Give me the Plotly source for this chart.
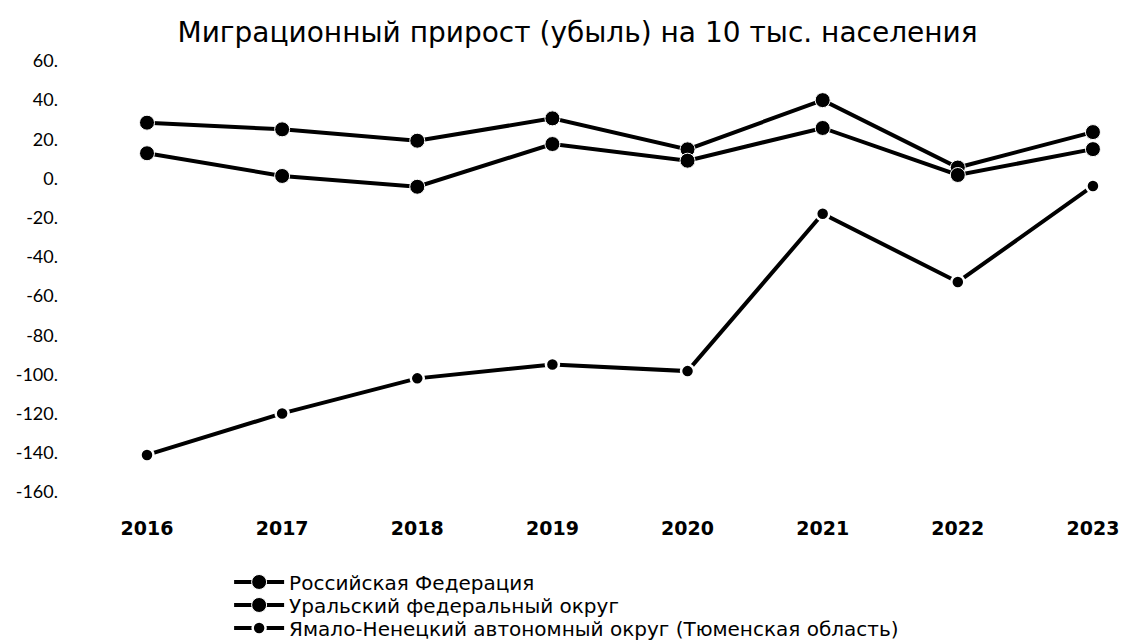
import plotly.graph_objects as go

years = [2016, 2017, 2018, 2019, 2020, 2021, 2022, 2023]
names = ["Российская Федерация", "Уральский федеральный округ",
         "Ямало-Ненецкий автономный округ (Тюменская область)"]
rf = [28.5, 25.1, 19.3, 30.7, 14.9, 40.0, 5.6, 23.7]
ufo = [12.9, 1.3, -4.2, 17.6, 9.1, 25.8, 1.8, 15.0]
yanao = [-141.1, -119.9, -102.0, -94.9, -98.3, -18.0, -52.8, -3.8]
ytick_vals = [60, 40, 20, 0, -20, -40, -60, -80, -100, -120, -140, -160]
ytick_text = [f"{v}." for v in ytick_vals]
title = "Миграционный прирост (убыль) на 10 тыс. населения"

fig = go.Figure()
fig.add_trace(go.Scatter(x=years, y=rf, name=names[0], mode="lines+markers", legend="legend",
                         line=dict(color="black", width=4),
                         marker=dict(size=15, color="black", line=dict(color="white", width=1))))
fig.add_trace(go.Scatter(x=years, y=ufo, name=names[1], mode="lines+markers", legend="legend2",
                         line=dict(color="black", width=4),
                         marker=dict(size=15, color="black", line=dict(color="white", width=1))))
fig.add_trace(go.Scatter(x=years, y=yanao, name=names[2], mode="lines+markers", legend="legend3",
                         line=dict(color="black", width=4),
                         marker=dict(size=13, color="black", line=dict(color="white", width=2.5))))

legend_font = dict(family="DejaVu Sans", size=20, color="black")
legend_common = dict(orientation="v", x=0.156, xanchor="left", yref="container",
                     yanchor="middle", font=legend_font, itemwidth=50,
                     bgcolor="rgba(0,0,0,0)")

fig.update_layout(
    width=1119, height=632,
    paper_bgcolor="white", plot_bgcolor="white",
    margin=dict(l=57, r=10, t=42, b=130, autoexpand=False),
    title=dict(text=title, x=0.509, xanchor="center", y=0.962, yanchor="middle",
               font=dict(family="DejaVu Sans", size=28, color="black")),
    xaxis=dict(range=[2015.3932, 2023.178], tickvals=years, ticktext=[str(y) for y in years],
               showgrid=False, zeroline=False, showline=False, ticks="",
               automargin=False, ticklabelstandoff=5,
               tickfont=dict(family="DejaVu Sans", size=19, color="black", weight="bold")),
    yaxis=dict(range=[-169.2, 65.6], tickvals=ytick_vals, ticktext=ytick_text,
               showgrid=False, zeroline=False, showline=False, ticks="",
               automargin=False, ticklabelstandoff=6,
               tickfont=dict(family="Lato", size=18, color="black")),
    legend=dict(y=0.0918, **legend_common),
    legend2=dict(y=0.0554, **legend_common),
    legend3=dict(y=0.0190, **legend_common),
    showlegend=True,
)

fig.write_html("out.html")
